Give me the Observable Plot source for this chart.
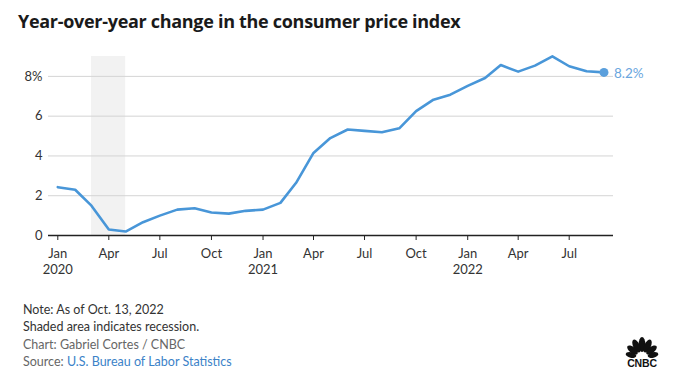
<!DOCTYPE html>
<html>
<head>
<meta charset="utf-8">
<script src="https://cdn.jsdelivr.net/npm/d3@7"></script>
<script src="https://cdn.jsdelivr.net/npm/@observablehq/plot@0.6"></script>
<style>
  html, body { margin: 0; padding: 0; background: #fff; }
  body { width: 674px; height: 382px; position: relative; overflow: hidden; font-family: Lato, "Open Sans", sans-serif; }
  #title { position: absolute; left: 18px; top: 9px; font-family: "Open Sans", Lato, sans-serif; font-size: 18px; font-weight: 700; color: #1a1a1a; letter-spacing: -0.3px; }
  #chart { position: absolute; left: 0; top: 40px; }
  #foot { position: absolute; left: 23px; top: 301px; font-size: 12.5px; color: #333; line-height: 17px; }
  #foot .g { color: #666; }
  #foot .l { color: #3b82c8; }
  #logo { position: absolute; left: 619px; top: 336px; }
</style>
</head>
<body>
<div id="title">Year-over-year change in the consumer price index</div>
<div id="chart"></div>
<div id="foot">
  <div>Note: As of Oct. 13, 2022</div>
  <div>Shaded area indicates recession.</div>
  <div class="g" style="margin-top:1px">Chart: Gabriel Cortes / CNBC</div>
  <div class="g">Source: <span class="l">U.S. Bureau of Labor Statistics</span></div>
</div>
<svg id="logo" width="46" height="32" viewBox="0 0 46 32">
  <g fill="#111">
    <ellipse cx="23" cy="8.5" rx="3.4" ry="7.5"/>
    <ellipse cx="17.5" cy="10" rx="3.3" ry="7" transform="rotate(-26 17.5 10)"/>
    <ellipse cx="28.5" cy="10" rx="3.3" ry="7" transform="rotate(26 28.5 10)"/>
    <ellipse cx="13.5" cy="14" rx="3.1" ry="6.3" transform="rotate(-52 13.5 14)"/>
    <ellipse cx="32.5" cy="14" rx="3.1" ry="6.3" transform="rotate(52 32.5 14)"/>
    <ellipse cx="12" cy="19" rx="2.7" ry="5.4" transform="rotate(-78 12 19)"/>
    <ellipse cx="34" cy="19" rx="2.7" ry="5.4" transform="rotate(78 34 19)"/>
    <text x="23" y="30.5" text-anchor="middle" font-family="Liberation Sans, Arial, sans-serif" font-weight="900" font-size="10.5" letter-spacing="-0.2">CNBC</text>
  </g>
</svg>
<script>
const months = [
  "2020-01","2020-02","2020-03","2020-04","2020-05","2020-06","2020-07","2020-08","2020-09","2020-10","2020-11","2020-12",
  "2021-01","2021-02","2021-03","2021-04","2021-05","2021-06","2021-07","2021-08","2021-09","2021-10","2021-11","2021-12",
  "2022-01","2022-02","2022-03","2022-04","2022-05","2022-06","2022-07","2022-08","2022-09"
];
const cpiChange = [
  2.43, 2.3, 1.5, 0.3, 0.2, 0.67, 1.0, 1.3, 1.37, 1.16, 1.1, 1.24,
  1.3, 1.64, 2.65, 4.15, 4.9, 5.33, 5.26, 5.19, 5.39, 6.25, 6.83, 7.08,
  7.52, 7.92, 8.57, 8.24, 8.54, 9.01, 8.51, 8.26, 8.2
];
const recession = [{start: "2020-03-01", end: "2020-05-01"}];
const yTicks = [0, 2, 4, 6, 8];
const xTickMonths = ["2020-01","2020-04","2020-07","2020-10","2021-01","2021-04","2021-07","2021-10","2022-01","2022-04","2022-07"];
const lastLabel = "8.2%";

const parse = d3.utcParse("%Y-%m");
const data = months.map((m, i) => ({date: parse(m), value: cpiChange[i]}));
const last = data[data.length - 1];
const monthNames = ["Jan","Feb","Mar","Apr","May","Jun","Jul","Aug","Sep","Oct","Nov","Dec"];
const fmtX = d => d.getUTCMonth() === 0 ? `${monthNames[0]}\n${d.getUTCFullYear()}` : monthNames[d.getUTCMonth()];

const chart = Plot.plot({
  width: 674,
  height: 250,
  marginLeft: 48,
  marginRight: 61,
  marginTop: 16,
  marginBottom: 55,
  style: {fontFamily: "Lato, 'Open Sans', sans-serif", fontSize: "13px", color: "#333", background: "#fff"},
  x: {type: "utc", domain: [new Date(Date.UTC(2019, 11, 15, 10)), new Date(Date.UTC(2022, 8, 18))], label: null},
  y: {domain: [0, 9], label: null},
  marks: [
    Plot.rect(recession, {x1: d => new Date(d.start), x2: d => new Date(d.end), y1: 0, y2: 9, fill: "#f2f2f2"}),
    Plot.ruleY(yTicks.filter(t => t > 0), {stroke: "#d4d4d4", strokeWidth: 1}),
    Plot.axisY(yTicks, {tickSize: 0, tickPadding: 6, tickFormat: d => d === 8 ? "8%" : String(d), fill: "#333", fontSize: 13, label: null}),
    Plot.axisX(xTickMonths.map(parse), {tickSize: 5, tickPadding: 6, tickFormat: fmtX, stroke: "#222", fill: "#333", fontSize: 13, lineHeight: 1.25, label: null}),
    Plot.ruleY([0], {stroke: "#222", strokeWidth: 1.3}),
    Plot.line(data, {x: "date", y: "value", stroke: "#4896d8", strokeWidth: 2.6, strokeLinejoin: "round"}),
    Plot.dot([last], {x: "date", y: "value", r: 4.5, fill: "#5a9fdc", stroke: "none"}),
    Plot.text([last], {x: "date", y: "value", text: () => lastLabel, dx: 10, dy: 1, textAnchor: "start", fill: "#6aa6de", fontSize: 13.5})
  ]
});
document.getElementById("chart").appendChild(chart);
</script>
</body>
</html>
